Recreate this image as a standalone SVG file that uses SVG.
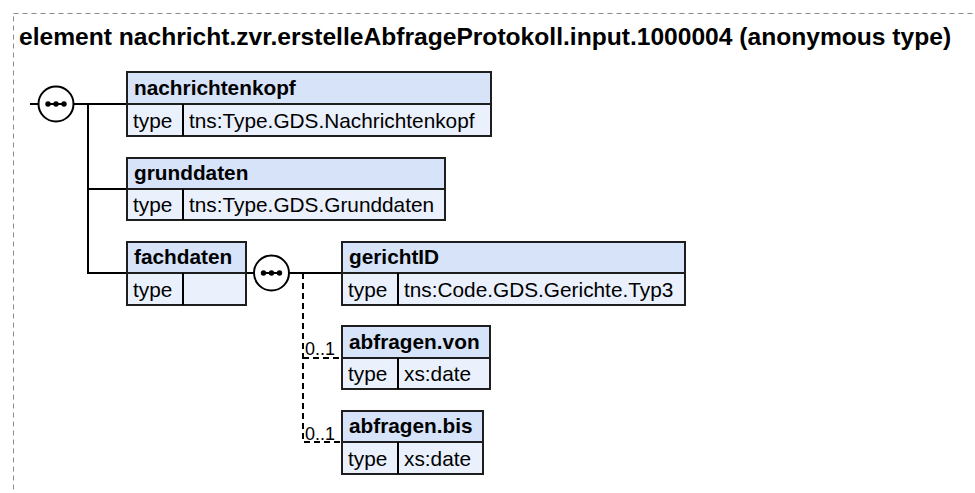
<svg xmlns="http://www.w3.org/2000/svg" width="975" height="493" viewBox="0 0 975 493">
<style>
.frame{fill:none;stroke:#8a8a8a;stroke-width:1;stroke-dasharray:5,4}
.title{font-family:"Liberation Sans",Arial,sans-serif;font-weight:bold;font-size:24.6px;fill:#000}
.hd{fill:#d6e3f8;stroke:#1e1e1e;stroke-width:2}
.bd{fill:#eaf1fc;stroke:#1e1e1e;stroke-width:2}
.name{font-family:"Liberation Sans",Arial,sans-serif;font-weight:bold;font-size:20.8px;fill:#000}
.txt{font-family:"Liberation Sans",Arial,sans-serif;font-size:20.8px;fill:#000}
.occ{font-family:"Liberation Sans",Arial,sans-serif;font-size:18px;fill:#000}
.ln{fill:none;stroke:#000;stroke-width:2}
.dl{fill:none;stroke:#000;stroke-width:2;stroke-dasharray:6,4}
.seq{fill:#fff;stroke:#000;stroke-width:2}
.dot{fill:#000}
</style>
<defs>
<g id="seqIcon">
<circle class="seq" cx="0" cy="0" r="17.5"/>
<line x1="-8" y1="0" x2="8" y2="0" stroke="#000" stroke-width="2"/>
<circle class="dot" cx="-8" cy="0" r="2.7"/>
<circle class="dot" cx="0" cy="0" r="2.7"/>
<circle class="dot" cx="8" cy="0" r="2.7"/>
</g>
</defs>
<rect class="frame" x="13.5" y="13.5" width="980" height="500"/>
<text class="title" x="19" y="45">element nachricht.zvr.erstelleAbfrageProtokoll.input.1000004 (anonymous type)</text>

<g id="connectors">
<line class="ln" x1="30" y1="104" x2="39" y2="104"/>
<line class="ln" x1="73" y1="104" x2="127" y2="104"/>
<polyline class="ln" points="88,104 88,273 127,273"/>
<line class="ln" x1="88" y1="189" x2="127" y2="189"/>
<line class="ln" x1="246" y1="273" x2="254" y2="273"/>
<line class="ln" x1="289" y1="273" x2="342" y2="273"/>
<polyline class="dl" points="303,273 303,442 342,442"/>
<line class="dl" x1="303" y1="358" x2="342" y2="358"/>
<text class="occ" x="305" y="355">0..1</text>
<text class="occ" x="305" y="440">0..1</text>
</g>

<g id="seq1"><use href="#seqIcon" x="56" y="104"/></g>
<g id="seq2"><use href="#seqIcon" x="271.5" y="273"/></g>

<g id="nachrichtenkopf">
<rect class="hd" x="127" y="72" width="364" height="32"/>
<rect class="bd" x="127" y="104" width="364" height="32"/>
<line class="ln" x1="183" y1="104" x2="183" y2="136"/>
<text class="name" x="134" y="95">nachrichtenkopf</text>
<text class="txt" x="133" y="128">type</text>
<text class="txt" x="189" y="128">tns:Type.GDS.Nachrichtenkopf</text>
</g>

<g id="grunddaten">
<rect class="hd" x="127" y="158" width="318" height="31"/>
<rect class="bd" x="127" y="189" width="318" height="31"/>
<line class="ln" x1="183" y1="189" x2="183" y2="220"/>
<text class="name" x="134" y="180">grunddaten</text>
<text class="txt" x="133" y="212">type</text>
<text class="txt" x="189" y="212">tns:Type.GDS.Grunddaten</text>
</g>

<g id="fachdaten">
<rect class="hd" x="127" y="242" width="119" height="31"/>
<rect class="bd" x="127" y="273" width="119" height="32"/>
<line class="ln" x1="183" y1="273" x2="183" y2="305"/>
<text class="name" x="134" y="264">fachdaten</text>
<text class="txt" x="133" y="297">type</text>
</g>

<g id="gerichtID">
<rect class="hd" x="342" y="242" width="343" height="31"/>
<rect class="bd" x="342" y="273" width="343" height="32"/>
<line class="ln" x1="398" y1="273" x2="398" y2="305"/>
<text class="name" x="349" y="264">gerichtID</text>
<text class="txt" x="348" y="297">type</text>
<text class="txt" x="404" y="297">tns:Code.GDS.Gerichte.Typ3</text>
</g>

<g id="abfragen.von">
<rect class="hd" x="342" y="326" width="148" height="32"/>
<rect class="bd" x="342" y="358" width="148" height="31"/>
<line class="ln" x1="398" y1="358" x2="398" y2="389"/>
<text class="name" x="349" y="349">abfragen.von</text>
<text class="txt" x="348" y="381">type</text>
<text class="txt" x="404" y="381">xs:date</text>
</g>

<g id="abfragen.bis">
<rect class="hd" x="342" y="411" width="141" height="31"/>
<rect class="bd" x="342" y="442" width="141" height="32"/>
<line class="ln" x1="398" y1="442" x2="398" y2="474"/>
<text class="name" x="349" y="433">abfragen.bis</text>
<text class="txt" x="348" y="466">type</text>
<text class="txt" x="404" y="466">xs:date</text>
</g>
</svg>
